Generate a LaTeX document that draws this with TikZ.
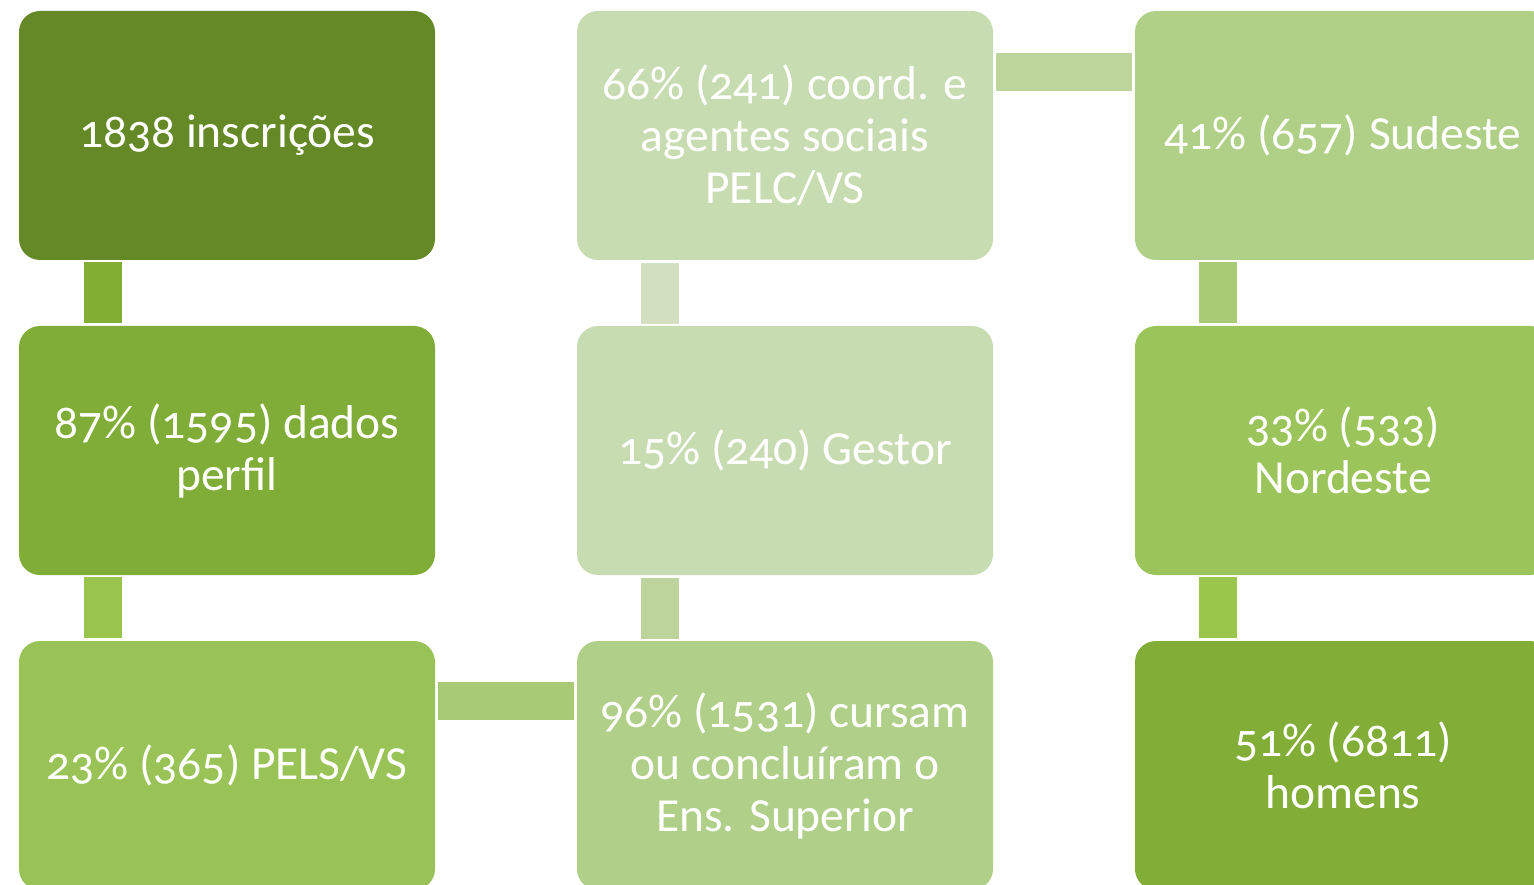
\documentclass[tikz,border=0pt]{standalone}
\usepackage{fontspec}
\setmainfont{Carlito}[Numbers=OldStyle]
\definecolor{cA}{HTML}{648926}
\definecolor{bA}{HTML}{82AE33}
\definecolor{cB}{HTML}{80AD37}
\definecolor{bB}{HTML}{99C54F}
\definecolor{cC}{HTML}{99C356}
\definecolor{hbar}{HTML}{A8CA77}
\definecolor{cD}{HTML}{C8DCB2}
\definecolor{bD}{HTML}{D2DFC0}
\definecolor{bE}{HTML}{BDD59C}
\definecolor{cF}{HTML}{B0CF88}
\definecolor{tbar}{HTML}{BDD49B}
\definecolor{cG}{HTML}{B0CF87}
\definecolor{bG}{HTML}{A9CB76}
\definecolor{cH}{HTML}{9BC45A}
\definecolor{bH}{HTML}{9AC64B}
\definecolor{cI}{HTML}{82AD37}
\begin{document}
\begin{tikzpicture}[x=1pt,y=-1pt,
  box/.style={rectangle, rounded corners=21pt, minimum width=416pt, minimum height=249pt,
    inner sep=0pt, text=white, align=center, font=\fontsize{47.5}{52}\selectfont},
  vbar/.style={line width=38pt, shorten >=3pt, shorten <=2pt},
  hbarst/.style={line width=38pt, shorten >=3pt, shorten <=3pt}]
\useasboundingbox (0,0) rectangle (1534,885);
\clip (0,0) rectangle (1534,885);
\node[box, fill=cA] (a1) at (227,135.5) {1838 inscrições};
\node[box, fill=cB] (a2) at (227,450.5) {87\% (1595) dados\\perfil};
\node[box, fill=cC] (a3) at (227,765.5) {23\% (365) PELS/VS};
\node[box, fill=cD] (b1) at (785,135.5) {66\% (241) coord. e\\agentes sociais\\PELC/VS};
\node[box, fill=cD] (b2) at (785,450.5) {15\% (240) Gestor};
\node[box, fill=cF] (b3) at (785,765.5) {96\% (1531) cursam\\ou concluíram o\\Ens. Superior};
\node[box, fill=cG] (c1) at (1343,135.5) {41\% (657) Sudeste};
\node[box, fill=cH] (c2) at (1343,450.5) {33\% (533)\\Nordeste};
\node[box, fill=cI] (c3) at (1343,765.5) {51\% (6811)\\homens};
\draw[vbar, draw=bA] ([xshift=-124pt]a1.south) -- ([xshift=-124pt]a2.north);
\draw[vbar, draw=bB] ([xshift=-124pt]a2.south) -- ([xshift=-124pt]a3.north);
\draw[hbarst, draw=hbar] ([yshift=65pt]a3.east) -- ([yshift=65pt]b3.west);
\draw[vbar, draw=bE] ([xshift=-125pt]b3.north) -- ([xshift=-125pt]b2.south);
\draw[vbar, draw=bD] ([xshift=-125pt]b2.north) -- ([xshift=-125pt]b1.south);
\draw[hbarst, draw=tbar] ([yshift=63.5pt]b1.east) -- ([yshift=63.5pt]c1.west);
\draw[vbar, draw=bG] ([xshift=-125pt]c1.south) -- ([xshift=-125pt]c2.north);
\draw[vbar, draw=bH] ([xshift=-125pt]c2.south) -- ([xshift=-125pt]c3.north);
\end{tikzpicture}
\end{document}
